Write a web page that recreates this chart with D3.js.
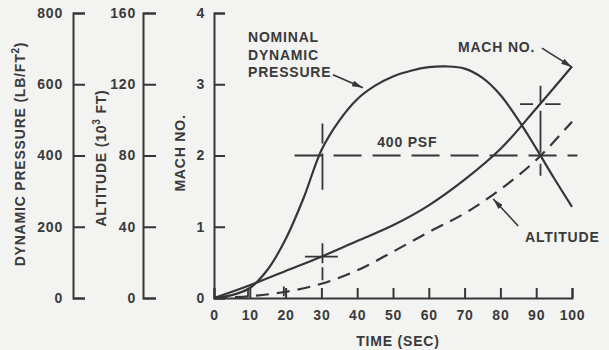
<!DOCTYPE html>
<html>
<head>
<meta charset="utf-8">
<script src="https://d3js.org/d3.v7.min.js"></script>
<style>
  body { margin: 0; background: #f3f3f1; }
  svg { display: block; }
  text {
    font-family: "Liberation Sans", Arial, sans-serif;
    font-weight: bold;
    font-size: 14px;
    fill: #3a3a3a;
    letter-spacing: 0.8px;
  }
</style>
</head>
<body>
<svg id="chart"></svg>
<script>
// ---- data ----
let timeTicks = [0, 10, 20, 30, 40, 50, 60, 70, 80, 90, 100]
let machTicks = [0, 1, 2, 3, 4]
let qTicks = [0, 200, 400, 600, 800]
let altTicks = [0, 40, 80, 120, 160]

// nominal dynamic pressure (lb/ft2)
let qTime = [0, 5, 10, 15, 20, 25, 30, 35, 40, 45, 50, 55, 60, 65, 70, 75, 80, 85, 90, 95, 100]
let qValues = [0, 8, 28, 80, 165, 280, 415, 498, 558, 596, 622, 638, 648, 650, 644, 618, 570, 500, 420, 336, 256]

// mach number
let machTime = [0, 10, 20, 30, 40, 50, 60, 70, 80, 90, 100]
let machValues = [0, 0.18, 0.38, 0.58, 0.8, 1.02, 1.3, 1.66, 2.09, 2.66, 3.25]

// altitude (10^3 ft)
let altTime = [0, 10, 20, 30, 40, 50, 60, 70, 80, 90, 100]
let altValues = [0, 1, 3.5, 8, 15.5, 26, 37, 47.5, 61, 77.5, 99]

let width = 609
let height = 350
let ink = "#363636"

let svg = d3.select("#chart")
  .attr("width", width)
  .attr("height", height)

let xScale = d3.scaleLinear().domain([0, 100]).range([214, 572])
let machScale = d3.scaleLinear().domain([0, 4]).range([298, 13])
let qScale = d3.scaleLinear().domain([0, 800]).range([298, 13])
let altScale = d3.scaleLinear().domain([0, 160]).range([298, 13])

svg.append("defs")
  .append("marker")
  .attr("id", "arrow")
  .attr("viewBox", "0 0 11 6")
  .attr("refX", 11)
  .attr("refY", 3)
  .attr("markerWidth", 11)
  .attr("markerHeight", 6)
  .attr("markerUnits", "userSpaceOnUse")
  .attr("orient", "auto")
  .append("path")
  .attr("d", "M0,0L11,3L0,6Z")
  .attr("fill", ink)

let styleAxis = (g) => {
  g.attr("font-family", null).attr("font-size", null)
  g.selectAll(".domain, .tick line")
   .attr("stroke", ink)
   .attr("stroke-width", 2)
  g.selectAll("text").attr("fill", null)
}

// ---- axes ----
let qAxis = d3.axisLeft(qScale).tickValues(qTicks).tickSize(-12).tickPadding(10)
svg.append("g")
   .attr("transform", "translate(73,0)")
   .call(qAxis)
   .call(styleAxis)

let altAxis = d3.axisLeft(altScale).tickValues(altTicks).tickSize(-13).tickPadding(7)
svg.append("g")
   .attr("transform", "translate(143,0)")
   .call(altAxis)
   .call(styleAxis)

let machAxis = d3.axisLeft(machScale).tickValues(machTicks)
  .tickFormat(d3.format("d")).tickSize(-11).tickPadding(9)
svg.append("g")
   .attr("transform", "translate(214,0)")
   .call(machAxis)
   .call(styleAxis)

let xAxis = d3.axisBottom(xScale).tickValues(timeTicks).tickSize(-10).tickPadding(12)
svg.append("g")
   .attr("transform", "translate(0,298)")
   .call(xAxis)
   .call(styleAxis)

// ---- axis titles ----
let dynTitle = svg.append("text")
   .attr("transform", "translate(25,154) rotate(-90)")
   .attr("text-anchor", "middle")
dynTitle.append("tspan").text("DYNAMIC PRESSURE (LB/FT")
dynTitle.append("tspan").text("2").attr("dy", -6).style("font-size", "10px")
dynTitle.append("tspan").text(")").attr("dy", 6)

let altTitle = svg.append("text")
   .attr("transform", "translate(106,158) rotate(-90)")
   .attr("text-anchor", "middle")
altTitle.append("tspan").text("ALTITUDE (10")
altTitle.append("tspan").text("3").attr("dy", -6).style("font-size", "10px")
altTitle.append("tspan").text(" FT)").attr("dy", 6)

svg.append("text")
   .attr("transform", "translate(185,153) rotate(-90)")
   .attr("text-anchor", "middle")
   .text("MACH NO.")

svg.append("text")
   .attr("x", xScale(50) + 5)
   .attr("y", 346)
   .attr("text-anchor", "middle")
   .text("TIME (SEC)")

// ---- reference lines ----
let guide = (x1, y1, x2, y2, dash) => {
  svg.append("line")
     .attr("x1", x1).attr("y1", y1)
     .attr("x2", x2).attr("y2", y2)
     .attr("stroke", ink)
     .attr("stroke-width", 1.8)
     .attr("stroke-dasharray", dash)
}

// 400 psf line and its crossings
guide(xScale(22.5), qScale(400), xScale(101.5), qScale(400), "28 11")
guide(xScale(30.3), machScale(2.45), xScale(30.3), machScale(1.52), "20 10 40")
guide(xScale(91.2), machScale(2.98), xScale(91.2), machScale(1.59), "17 8 42 11 12")
guide(xScale(85.5), machScale(2.72), xScale(96.8), machScale(2.72), "13 12 17")
// small crosshair on mach line at 30 s
guide(xScale(30.3), machScale(0.77), xScale(30.3), machScale(0.25), "20 4 13")
guide(xScale(25.4), machScale(0.58), xScale(34.6), machScale(0.58), "none")
// small ticks on altitude line
guide(xScale(9.5), altScale(0.5), xScale(9.5), altScale(5), "none")
guide(xScale(19.5), altScale(1), xScale(19.5), altScale(6.5), "none")

// ---- curves ----
let drawCurve = (times, values, scale, dash) => {
  let line = d3.line()
    .x((d) => xScale(d[0]))
    .y((d) => scale(d[1]))
    .curve(d3.curveCatmullRom.alpha(0.5))
  svg.append("path")
     .datum(times.map((t, i) => [t, values[i]]))
     .attr("d", line)
     .attr("fill", "none")
     .attr("stroke", ink)
     .attr("stroke-width", 2.2)
     .attr("stroke-dasharray", dash)
}

drawCurve(qTime, qValues, qScale, "none")
drawCurve(machTime, machValues, machScale, "none")
drawCurve(altTime, altValues, altScale, "13 8")

// ---- labels with leaders ----
let leader = (tx, ty, dx, dy) => {
  svg.append("line")
     .attr("x1", tx + dx).attr("y1", ty + dy)
     .attr("x2", tx).attr("y2", ty)
     .attr("stroke", ink)
     .attr("stroke-width", 1.6)
     .attr("marker-end", "url(#arrow)")
}

let nominal = svg.append("text").attr("x", 248).attr("y", 42)
nominal.append("tspan").attr("x", 248).text("NOMINAL")
nominal.append("tspan").attr("x", 248).attr("dy", 17.5).text("DYNAMIC")
nominal.append("tspan").attr("x", 248).attr("dy", 17.5).text("PRESSURE")
leader(xScale(41.6), qScale(590), -30, -13)

svg.append("text").attr("x", 458).attr("y", 52).text("MACH NO.")
leader(xScale(100), machScale(3.24), -30, -19)

svg.append("text").attr("x", 525).attr("y", 242).text("ALTITUDE")
leader(xScale(78), altScale(55.6), 25, 27)

svg.append("text")
   .attr("x", xScale(54))
   .attr("y", qScale(400) - 9)
   .attr("text-anchor", "middle")
   .text("400 PSF")
</script>
</body>
</html>
